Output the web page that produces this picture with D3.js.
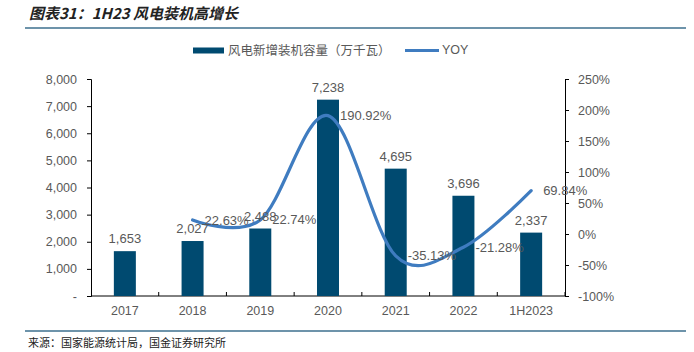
<!DOCTYPE html>
<html>
<head>
<meta charset="utf-8">
<title>风电装机</title>
<script src="https://d3js.org/d3.v7.min.js"></script>
<style>
  body { margin: 0; background: #fff; }
  text { font-family: "Liberation Sans", Arial, sans-serif; fill: #595959; }
  .cjk { font-family: "Noto Sans CJK SC", sans-serif; }
</style>
</head>
<body>
<script>
var categories = ["2017", "2018", "2019", "2020", "2021", "2022", "1H2023"];
var capacity = [1653, 2027, 2488, 7238, 4695, 3696, 2337];
var yoy = [null, 22.63, 22.74, 190.92, -35.13, -21.28, 69.84];
var leftTicks = [0, 1000, 2000, 3000, 4000, 5000, 6000, 7000, 8000];
var rightTicks = [-100, -50, 0, 50, 100, 150, 200, 250];

var width = 694, height = 352;
var pLeft = 91, pRight = 565, pTop = 79, pBottom = 296;
var barColor = "#004a70", lineColor = "#3f7cc0";

var svg = d3.select("body").append("svg")
    .attr("width", width).attr("height", height);

// title
svg.append("text").attr("class", "cjk")
    .attr("x", 29).attr("y", 19)
    .style("font-size", "15px").style("font-weight", "bold").style("font-style", "italic")
    .style("fill", "#222")
    .text("图表31：1H23 风电装机高增长");
svg.append("line").attr("x1", 25).attr("x2", 686).attr("y1", 28).attr("y2", 28)
    .attr("stroke", "#3d6f8e").attr("stroke-width", 1.5);

var x = d3.scaleBand().domain(categories).range([pLeft, pRight]);
var yL = d3.scaleLinear().domain([0, 8000]).range([pBottom, pTop]);
var yR = d3.scaleLinear().domain([-100, 250]).range([pBottom, pTop]);

// left axis
var axL = svg.append("g").attr("transform", "translate(" + pLeft + ",0)")
    .call(d3.axisLeft(yL).tickValues(leftTicks).tickSize(4).tickPadding(10)
        .tickFormat(function(d) { return d === 0 ? "-" : d3.format(",")(d); }));
// right axis
var axR = svg.append("g").attr("transform", "translate(" + pRight + ",0)")
    .call(d3.axisRight(yR).tickValues(rightTicks).tickSize(4).tickPadding(9)
        .tickFormat(function(d) { return d + "%"; }));
// bottom axis
var axB = svg.append("g").attr("transform", "translate(0," + pBottom + ")")
    .call(d3.axisBottom(x).tickSize(0).tickPadding(10));
axB.selectAll(".tick").append("line")
    .attr("x1", x.bandwidth() / 2).attr("x2", x.bandwidth() / 2)
    .attr("y1", 0).attr("y2", -4).attr("stroke", "#000");

[axL, axR, axB].forEach(function(a) {
  a.select(".domain").attr("stroke", "#000");
  a.selectAll(".tick line").attr("stroke", "#000");
  a.selectAll("text").style("font-size", "12.5px").style("fill", "#595959")
    .style("font-family", "'Liberation Sans', Arial, sans-serif");
});
axB.select(".domain").attr("d", "M" + pLeft + ",0H" + pRight);

// bars
var bw = 22;
svg.append("g").selectAll("rect").data(capacity).enter().append("rect")
    .attr("x", function(d, i) { return x(categories[i]) + x.bandwidth() / 2 - bw / 2; })
    .attr("y", function(d) { return yL(d); })
    .attr("width", bw)
    .attr("height", function(d) { return pBottom - yL(d); })
    .attr("fill", barColor);

// yoy line (excel-style smoothing)
var pts = yoy.map(function(d, i) { return {c: categories[i], v: d}; })
    .filter(function(d) { return d.v !== null; });
var line = d3.line()
    .x(function(d) { return x(d.c) + x.bandwidth() / 2; })
    .y(function(d) { return yR(d.v); })
    .curve(d3.curveCatmullRom.alpha(0));
svg.append("path").datum(pts).attr("d", line)
    .attr("fill", "none").attr("stroke", lineColor).attr("stroke-width", 3.2)
    .attr("stroke-linecap", "round");

// bar labels
svg.append("g").selectAll("text").data(capacity).enter().append("text")
    .attr("x", function(d, i) { return x(categories[i]) + x.bandwidth() / 2; })
    .attr("y", function(d) { return yL(d) - 8; })
    .attr("text-anchor", "middle")
    .style("font-size", "13px")
    .text(function(d) { return d3.format(",")(d); });

// yoy labels
svg.append("g").selectAll("text").data(pts).enter().append("text")
    .attr("x", function(d) { return x(d.c) + x.bandwidth() / 2 + 12; })
    .attr("y", function(d) { return yR(d.v); })
    .attr("dy", "0.35em")
    .style("font-size", "13px")
    .text(function(d) { return d.v.toFixed(2) + "%"; });

// legend
svg.append("rect").attr("x", 193).attr("y", 47.5).attr("width", 31).attr("height", 6)
    .attr("fill", barColor);
svg.append("text").attr("class", "cjk").attr("x", 228).attr("y", 51).attr("dy", "0.35em")
    .style("font-size", "12.5px").text("风电新增装机容量（万千瓦）");
svg.append("line").attr("x1", 405).attr("x2", 439).attr("y1", 50.5).attr("y2", 50.5)
    .attr("stroke", lineColor).attr("stroke-width", 3);
svg.append("text").attr("x", 442).attr("y", 50).attr("dy", "0.35em")
    .style("font-size", "12.5px").text("YOY");

// source
svg.append("line").attr("x1", 25).attr("x2", 686).attr("y1", 331).attr("y2", 331)
    .attr("stroke", "#3d6f8e").attr("stroke-width", 1.5);
svg.append("text").attr("class", "cjk").attr("x", 28).attr("y", 343).attr("dy", "0.35em")
    .style("font-size", "11px").style("fill", "#222")
    .text("来源：国家能源统计局，国金证券研究所");
</script>
</body>
</html>
